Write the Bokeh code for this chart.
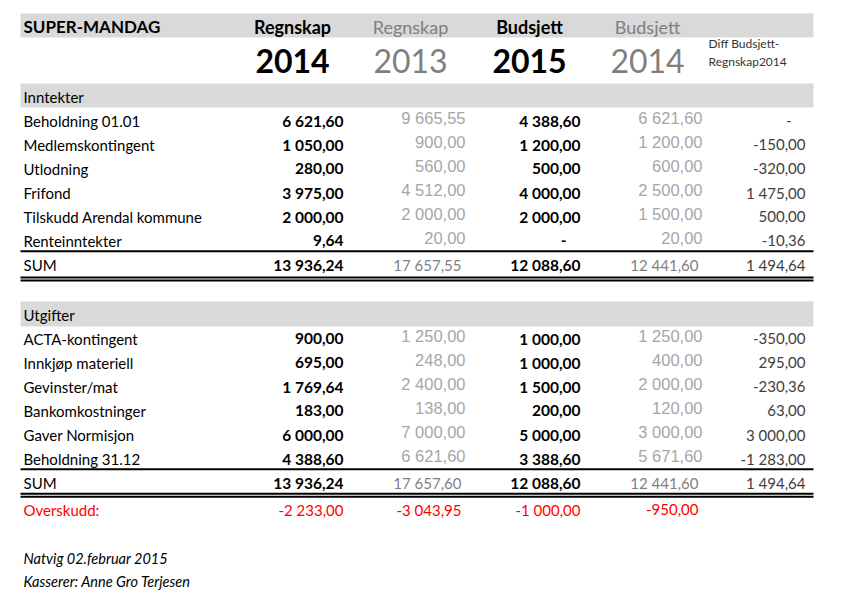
from bokeh.plotting import figure
from bokeh.models import Range1d, ColumnDataSource
from bokeh.core.properties import value
from bokeh.embed import file_html
from bokeh.resources import INLINE

# ---------------- data ----------------
sheet_title = "SUPER-MANDAG"
col_titles = ["Regnskap", "Regnskap", "Budsjett", "Budsjett"]
col_years = ["2014", "2013", "2015", "2014"]
diff_title = ["Diff Budsjett-", "Regnskap2014"]

inn_title = "Inntekter"
inn_labels = ["Beholdning 01.01", "Medlemskontingent", "Utlodning", "Frifond",
              "Tilskudd Arendal kommune", "Renteinntekter"]
inn_regnskap2014 = [6621.60, 1050.00, 280.00, 3975.00, 2000.00, 9.64]
inn_regnskap2013 = [9665.55, 900.00, 560.00, 4512.00, 2000.00, 20.00]
inn_budsjett2015 = [4388.60, 1200.00, 500.00, 4000.00, 2000.00, 0.00]
inn_budsjett2014 = [6621.60, 1200.00, 600.00, 2500.00, 1500.00, 20.00]
inn_diff = [0.00, -150.00, -320.00, 1475.00, 500.00, -10.36]
inn_sum = [13936.24, 17657.55, 12088.60, 12441.60, 1494.64]

utg_title = "Utgifter"
utg_labels = ["ACTA-kontingent", "Innkjøp materiell", "Gevinster/mat", "Bankomkostninger",
              "Gaver Normisjon", "Beholdning 31.12"]
utg_regnskap2014 = [900.00, 695.00, 1769.64, 183.00, 6000.00, 4388.60]
utg_regnskap2013 = [1250.00, 248.00, 2400.00, 138.00, 7000.00, 6621.60]
utg_budsjett2015 = [1000.00, 1000.00, 1500.00, 200.00, 5000.00, 3388.60]
utg_budsjett2014 = [1250.00, 400.00, 2000.00, 120.00, 3000.00, 5671.60]
utg_diff = [-350.00, 295.00, -230.36, 63.00, 3000.00, -1283.00]
utg_sum = [13936.24, 17657.60, 12088.60, 12441.60, 1494.64]

sum_label = "SUM"
overskudd_label = "Overskudd:"
overskudd = [-2233.00, -3043.95, -1000.00, -950.00]

footer = ["Natvig 02.februar 2015", "Kasserer: Anne Gro Terjesen"]

# ---------------- helpers ----------------
def fmt(v):
    if abs(v) < 0.005:
        return "-"
    s = f"{abs(v):,.2f}".replace(",", " ").replace(".", ",")
    return ("-" if v < 0 else "") + s

def dash_off(v):
    return -14 if abs(v) < 0.005 else 0

W, H = 834, 591
SHIFT = 5
p = figure(width=W, height=H, x_range=Range1d(0, W), y_range=Range1d(H + SHIFT, SHIFT),
           output_backend="svg", toolbar_location=None, x_axis_type=None, y_axis_type=None,
           min_border=0, outline_line_color=None)
p.background_fill_color = "white"
p.border_fill_color = "white"

LAT = "Lato"
ARI = "Liberation Sans"

def txt(xs, ys, texts, align="left", font=LAT, size="15px", style="normal", color="black", xo=None):
    src = ColumnDataSource(dict(x=xs, y=ys, t=texts, xo=xo if xo is not None else [0] * len(xs)))
    p.text(x="x", y="y", text="t", x_offset="xo", source=src, text_align=align,
           text_baseline="middle", text_font=value(font), text_font_size=value(size),
           text_font_style=style, text_color=color)

# layout
X0, X1 = 20, 813
LX = 23
col_right = [343, 465, 580, 702, 805]
col_center = [292, 410, 529, 647]
GREY_HDR = "#7f7f7f"
GREY_NUM = "#a6a6a6"
DIFF_C = "#404040"
RED = "#ff0000"
NUM_SIZE = "15.5px"

# bands
p.quad(left=[X0] * 3, right=[X1] * 3, top=[18, 88, 306], bottom=[42, 112, 331],
       fill_color="#d9d9d9", line_color=None)

# header
txt([LX], [31], [sheet_title], size="17px", style="bold")
for i in range(4):
    bold = i in (0, 2)
    txt([col_center[i]], [31], [col_titles[i]], align="center", size="18px",
        style="bold" if bold else "normal", color="black" if bold else GREY_HDR)
    txt([col_center[i]], [65], [col_years[i]], align="center", size="32px",
        style="bold" if bold else "normal", color="black" if bold else GREY_HDR)
txt([708, 708], [48, 66], diff_title, size="12px", color="#333333")

def section(top_y, title, labels, r14, r13, b15, b14, diff, sums, sum_y, line1, dbl):
    txt([LX], [top_y], [title])
    ys = [top_y + 24 * (i + 1) for i in range(len(labels))]
    txt([LX] * len(labels), ys, labels)
    txt([col_right[0]] * len(ys), ys, [fmt(v) for v in r14], align="right", style="bold",
        size=NUM_SIZE, xo=[dash_off(v) for v in r14])
    txt([col_right[1]] * len(ys), [y - 2.5 for y in ys], [fmt(v) for v in r13], align="right",
        font=ARI, size="16.5px", color=GREY_NUM, xo=[dash_off(v) for v in r13])
    txt([col_right[2]] * len(ys), ys, [fmt(v) for v in b15], align="right", style="bold",
        size=NUM_SIZE, xo=[dash_off(v) for v in b15])
    txt([col_right[3]] * len(ys), [y - 2.5 for y in ys], [fmt(v) for v in b14], align="right",
        font=ARI, size="16.5px", color=GREY_NUM, xo=[dash_off(v) for v in b14])
    txt([col_right[4]] * len(ys), ys, [fmt(v) for v in diff], align="right", color=DIFF_C,
        xo=[dash_off(v) for v in diff])
    # sum row
    txt([LX], [sum_y], [sum_label])
    txt([col_right[0]], [sum_y], [fmt(sums[0])], align="right", style="bold", size=NUM_SIZE)
    txt([col_right[1] - 4], [sum_y], [fmt(sums[1])], align="right", color=GREY_HDR)
    txt([col_right[2]], [sum_y], [fmt(sums[2])], align="right", style="bold", size=NUM_SIZE)
    txt([col_right[3] - 4], [sum_y], [fmt(sums[3])], align="right", color=GREY_HDR)
    txt([col_right[4]], [sum_y], [fmt(sums[4])], align="right", color=DIFF_C)
    p.segment(x0=[X0], y0=[line1], x1=[X1], y1=[line1], line_width=2, line_color="black")
    p.segment(x0=[X0, X0], y0=dbl, x1=[X1, X1], y1=dbl, line_width=2, line_color="black")

section(101, inn_title, inn_labels, inn_regnskap2014, inn_regnskap2013, inn_budsjett2015,
        inn_budsjett2014, inn_diff, inn_sum, 269, 255.7, [282, 285])
section(319, utg_title, utg_labels, utg_regnskap2014, utg_regnskap2013, utg_budsjett2015,
        utg_budsjett2014, utg_diff, utg_sum, 487, 473.7, [498.3, 501.3])

# overskudd row
txt([LX], [514], [overskudd_label], color=RED)
txt([col_right[0], col_right[1] - 4, col_right[2], col_right[3] - 4], [514] * 4,
    [fmt(v) for v in overskudd], align="right", color=RED)

# footer
txt([LX, LX], [563, 586], footer, size="14.5px", style="italic")

open("out.html", "w").write(file_html(p, INLINE))
